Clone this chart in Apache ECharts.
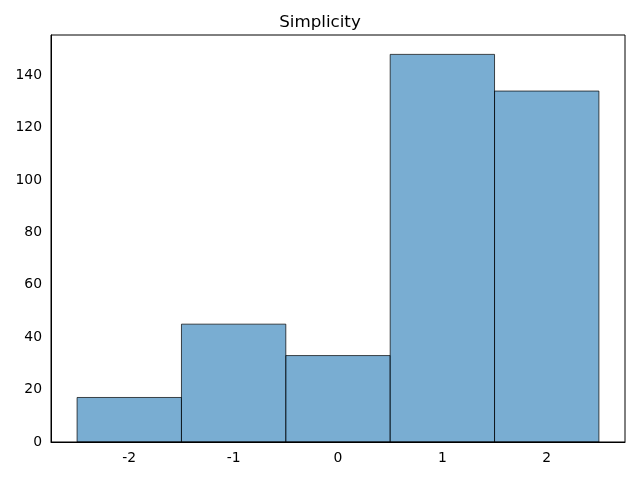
<!DOCTYPE html>
<html>
<head>
<meta charset="utf-8">
<script src="https://cdn.jsdelivr.net/npm/echarts@6/dist/echarts.min.js"></script>
<style>
  html, body { margin: 0; padding: 0; background: #fff; }
  #chart { width: 640px; height: 480px; }
</style>
</head>
<body>
<div id="chart"></div>
<script>
const bins = [-2, -1, 0, 1, 2]
const counts = [17, 45, 33, 148, 134]
const yTicks = [0, 20, 40, 60, 80, 100, 120, 140]

const font = 'DejaVu Sans'
const chart = echarts.init(document.getElementById('chart'), null, { renderer: 'canvas' })

chart.setOption({
  animation: false,
  title: {
    text: 'Simplicity',
    left: 'center',
    top: 9,
    textStyle: { fontFamily: font, fontSize: 16.7, fontWeight: 'normal', color: '#000' }
  },
  grid: { left: 51, right: 15, top: 35, bottom: 38 },
  xAxis: {
    type: 'value',
    min: -2.75,
    max: 2.75,
    splitLine: { show: false },
    axisLine: { onZero: false, lineStyle: { color: '#000', width: 1 } },
    axisTick: { show: false },
    axisLabel: {
      color: '#000', fontFamily: font, fontSize: 13.9, margin: 9,
      customValues: bins,
      formatter: v => String(v)
    }
  },
  yAxis: {
    type: 'value',
    min: 0,
    max: 155.4,
    splitLine: { show: false },
    axisLine: { show: true, onZero: false, lineStyle: { color: '#000', width: 1 } },
    axisTick: { show: false },
    axisLabel: {
      color: '#000', fontFamily: font, fontSize: 13.9, margin: 9,
      customValues: yTicks
    }
  },
  series: [{
    type: 'custom',
    data: bins.map((b, i) => [b, counts[i]]),
    renderItem: (params, api) => {
      const x = api.value(0)
      const y = api.value(1)
      const p0 = api.coord([x - 0.5, y])
      const p1 = api.coord([x + 0.5, 0])
      return {
        type: 'rect',
        shape: { x: p0[0], y: p0[1], width: p1[0] - p0[0], height: p1[1] - p0[1] },
        style: { fill: 'rgba(31,119,180,0.6)', stroke: 'rgba(0,0,0,0.7)', lineWidth: 1 }
      }
    }
  }]
})

// boxed axes: draw the top and right edges too
const tl = chart.convertToPixel({ xAxisIndex: 0, yAxisIndex: 0 }, [-2.75, 155.4])
const br = chart.convertToPixel({ xAxisIndex: 0, yAxisIndex: 0 }, [2.75, 0])
chart.setOption({
  graphic: [{
    type: 'rect',
    shape: { x: tl[0], y: tl[1], width: br[0] - tl[0], height: br[1] - tl[1] },
    style: { fill: 'none', stroke: '#000', lineWidth: 1 },
    silent: true,
    z: 10
  }]
})

window.addEventListener('resize', () => chart.resize())
</script>
</body>
</html>
